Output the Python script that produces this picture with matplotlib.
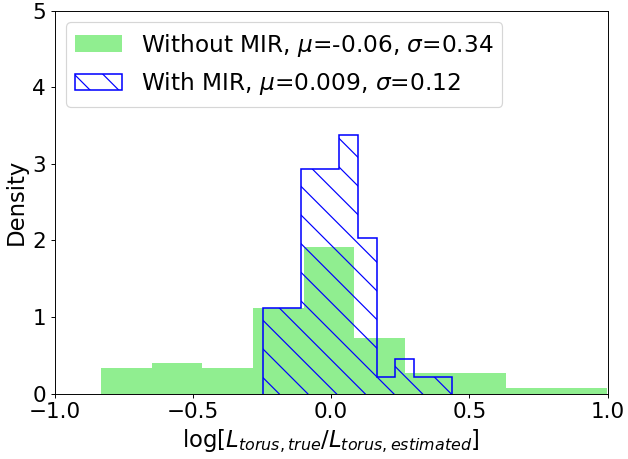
"""Torus luminosity residuals with and without MIR photometry.

Density histograms of log(L_true / L_estimated) for the torus component,
fitted once without and once with the mid-infrared bands.
"""

from __future__ import annotations

import matplotlib
matplotlib.use("Agg")
import matplotlib.pyplot as plt


DPI = 86
FONT_SIZE = 18
LABEL_SIZE = 19
LEGEND_SIZE = 19.5

# binned densities (edges + per-bin density)
without_mir_edges = [-0.831, -0.648, -0.465, -0.282, -0.099, 0.084,
                     0.267, 0.450, 0.633, 0.816, 0.999]
without_mir_density = [0.335, 0.40, 0.335, 1.123, 1.915, 0.727,
                       0.266, 0.266, 0.074, 0.074]
without_mir_mu, without_mir_sigma = "-0.06", "0.34"

with_mir_edges = [-0.2455, -0.1772, -0.1089, -0.0406, 0.0277, 0.0960,
                  0.1643, 0.2326, 0.3009, 0.3692, 0.4375]
with_mir_density = [1.123, 1.123, 2.933, 2.933, 3.381, 2.033,
                    0.222, 0.449, 0.222, 0.222]
with_mir_mu, with_mir_sigma = "0.009", "0.12"

x_ticks = [-1.0, -0.5, 0.0, 0.5, 1.0]
y_ticks = [0, 1, 2, 3, 4, 5]


def main() -> None:
    plt.rcParams["font.size"] = FONT_SIZE
    fig = plt.figure(figsize=(628 / DPI, 459 / DPI), dpi=DPI)
    ax = fig.add_axes([0.0868, 0.1423, 0.8809, 0.8344])

    ax.hist(
        without_mir_edges[:-1],
        bins=without_mir_edges,
        weights=without_mir_density,
        color="lightgreen",
        label=rf"Without MIR, $\mu$={without_mir_mu}, $\sigma$={without_mir_sigma}",
    )
    ax.hist(
        with_mir_edges[:-1],
        bins=with_mir_edges,
        weights=with_mir_density,
        histtype="step",
        hatch="\\",
        color="blue",
        linewidth=1.3,
        label=rf"With MIR, $\mu$={with_mir_mu}, $\sigma$={with_mir_sigma}",
    )

    ax.set_xlim(-1, 1)
    ax.set_ylim(0, 5)
    ax.set_xticks(x_ticks)
    ax.set_yticks(y_ticks)
    ax.set_xlabel(r"log[$L_{torus, true}/L_{torus, estimated}$]", fontsize=LABEL_SIZE)
    ax.set_ylabel("Density", fontsize=LABEL_SIZE)
    ax.legend(loc="upper left", fontsize=LEGEND_SIZE)

    fig.savefig("out.png", dpi=DPI)
    plt.close(fig)


if __name__ == "__main__":
    main()
